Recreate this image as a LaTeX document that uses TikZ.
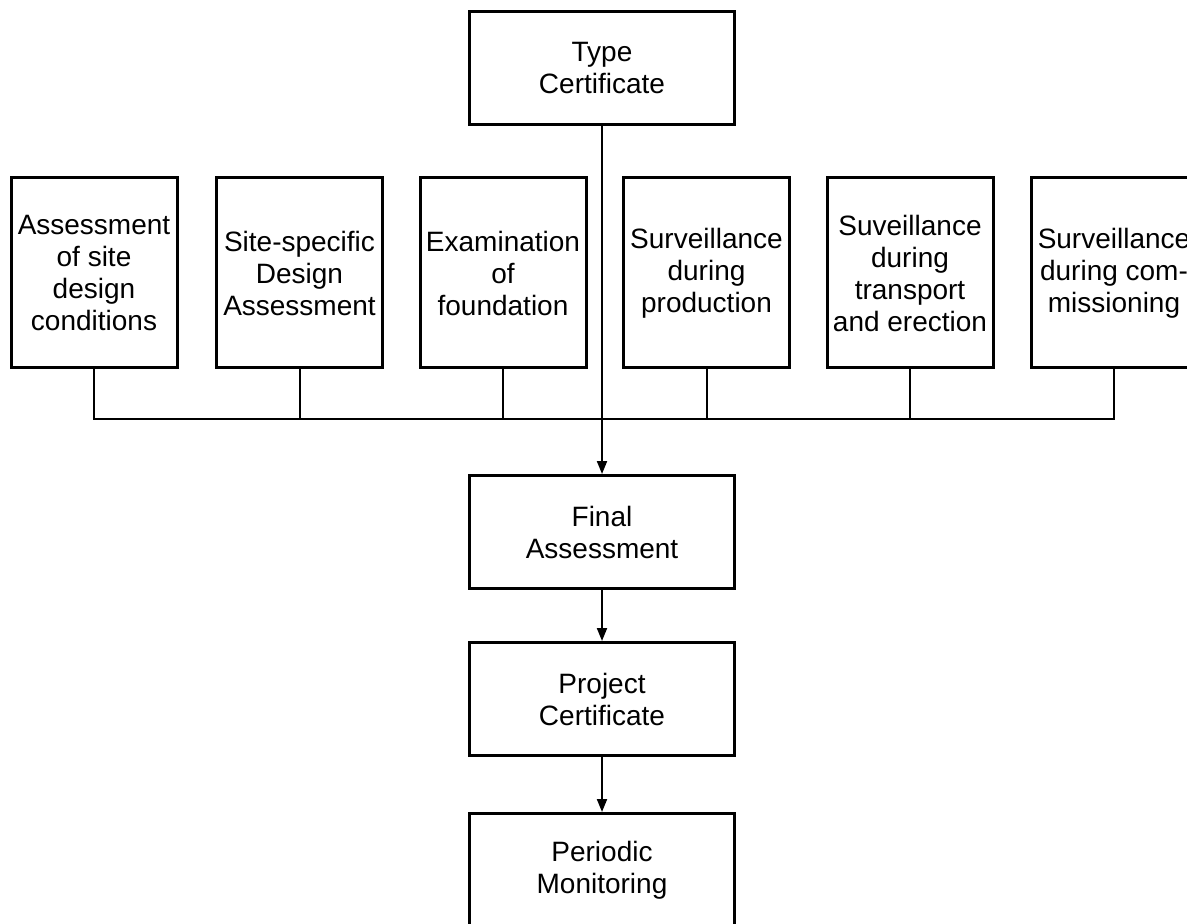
\documentclass[tikz,border=0pt]{standalone}
\usepackage{fontspec}
\setmainfont{Liberation Sans}
\usetikzlibrary{arrows.meta}
\begin{document}
\begin{tikzpicture}[x=0.5pt, y=-0.5pt, font=\fontsize{14}{16}\selectfont, >={Triangle[width=5pt,length=6.5pt]},
		box/.style={draw, line width=1.5pt, align=center, inner sep=0pt},
		mainbox/.style={box, minimum width=132.5pt, minimum height=56.5pt},
		checkbox/.style={box, minimum width=83pt, minimum height=95pt},
		link/.style={line width=1pt}]
			% Khung bao (kich thuoc anh)
			\useasboundingbox (0,0) rectangle (1187,924);
			
			% Cac hop chinh theo truc giua
			\node[mainbox] (type) at (602,68.5) {Type\\Certificate};
			\node[mainbox] (final) at (602,532) {Final\\Assessment};
			\node[mainbox] (project) at (602,699) {Project\\Certificate};
			\node[mainbox] (periodic) at (602,870) {Periodic\\Monitoring};
			
			% Cac hop kiem tra hang giua
			\node[checkbox] (site) at (94,273) {Assessment\\of site\\design\\conditions};
			\node[checkbox] (design) at (299.5,273) {Site-specific\\Design\\Assessment};
			\node[checkbox] (found) at (503,273) {Examination\\of\\foundation};
			\node[checkbox] (prod) at (706.5,273) {Surveillance\\during\\production};
			\node[checkbox] (erect) at (910,273) {Suveillance\\during\\transport\\and erection};
			\node[checkbox] (comm) at (1114,273) {Surveillance\\during com-\\missioning};
			
			% Duong gom ngang
			\coordinate (bus) at (0,419);
			\draw[link] (site.south) -- (site.south |- bus) -- (comm.south |- bus) -- (comm.south);
			\draw[link] (design.south) -- (design.south |- bus);
			\draw[link] (found.south) -- (found.south |- bus);
			\draw[link] (prod.south) -- (prod.south |- bus);
			\draw[link] (erect.south) -- (erect.south |- bus);
			
			% Mui ten doc
			\draw[link, ->] (type.south) -- (final.north);
			\draw[link, ->] (final.south) -- (project.north);
			\draw[link, ->] (project.south) -- (periodic.north);
	\end{tikzpicture}
\end{document}
